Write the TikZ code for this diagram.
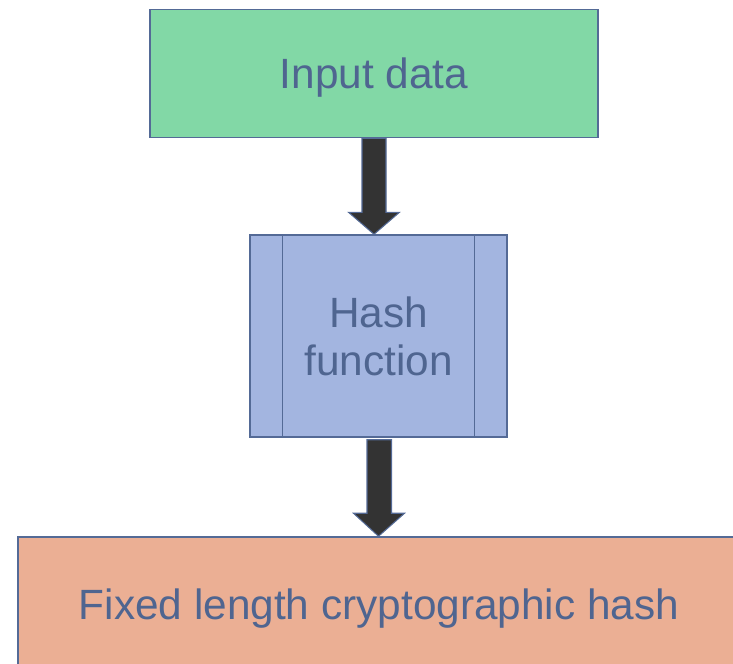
\documentclass[tikz,border=0pt]{standalone}
\usepackage{fontspec}
\setmainfont{Liberation Sans}
\usetikzlibrary{calc}
\definecolor{inputgreen}{RGB}{130,216,166}
\definecolor{hashblue}{RGB}{163,181,224}
\definecolor{outsalmon}{RGB}{235,175,148}
\definecolor{edgeblue}{RGB}{84,106,150}
\definecolor{textblue}{RGB}{79,101,144}
\definecolor{arrowgray}{RGB}{51,51,51}
\tikzset{
  box/.style={draw=edgeblue, line width=0.85pt, text=textblue, inner sep=0pt,
    font=\fontsize{24.1}{28.5}\selectfont, align=center},
  oneline/.style={text height=6mm, text depth=0pt},
  blockarrow/.style={draw=edgeblue, line width=0.6pt, fill=arrowgray, line join=miter}
}
\begin{document}
\begin{tikzpicture}[x=0.02cm, y=-0.02cm]
    \useasboundingbox (0,0) rectangle (733,663);
    \clip (0,0) rectangle (733,663);
    \node[box, oneline, fill=inputgreen, minimum width=89.6mm, minimum height=25.6mm] (input) at (374,73.5) {Input data};
    \node[box, fill=hashblue, minimum width=51.4mm, minimum height=40.4mm] (hash) at (378.5,336) {\raisebox{-0.4mm}{Hash}\\function};
    \draw[edgeblue, line width=0.85pt] ($(hash.north west)+(33,0)$) -- ($(hash.south west)+(33,0)$);
    \draw[edgeblue, line width=0.85pt] ($(hash.north east)+(-33,0)$) -- ($(hash.south east)+(-33,0)$);
    \node[box, oneline, fill=outsalmon, minimum width=144.4mm, minimum height=26.8mm] (output) at (379,604) {Fixed length cryptographic hash};
    % block arrows
    \draw[blockarrow] ($(input.south)+(-12,0)$) -- ($(input.south)+(12,0)$)
        -- ($(input.south |- hash.north)+(12,-22)$) -- ($(input.south |- hash.north)+(25.5,-22)$)
        -- (input.south |- hash.north) -- ($(input.south |- hash.north)+(-25.5,-22)$)
        -- ($(input.south |- hash.north)+(-12,-22)$) -- cycle;
    \draw[blockarrow] ($(hash.south)+(-11.5,2)$) -- ($(hash.south)+(13,2)$)
        -- ($(hash.south |- output.north)+(13,-23)$) -- ($(hash.south |- output.north)+(26,-23)$)
        -- (hash.south |- output.north) -- ($(hash.south |- output.north)+(-25,-23)$)
        -- ($(hash.south |- output.north)+(-11.5,-23)$) -- cycle;
\end{tikzpicture}
\end{document}
